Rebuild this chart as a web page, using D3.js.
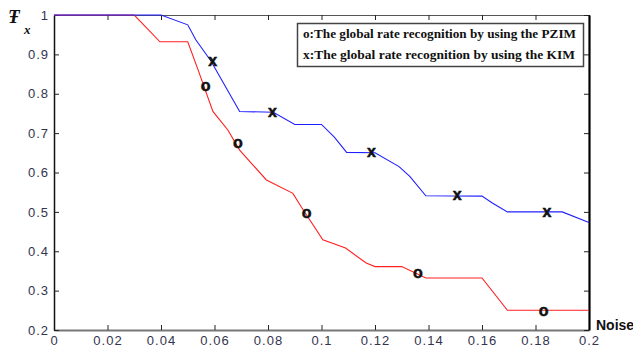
<!DOCTYPE html>
<html>
<head>
<meta charset="utf-8">
<script src="https://cdn.jsdelivr.net/npm/d3@7"></script>
<style>
  body { margin: 0; background: #fff; }
  svg { display: block; }
  .tick text { font-family: Arial, "Liberation Sans", sans-serif; font-size: 13px; fill: #34344e; letter-spacing: 1px; }
</style>
</head>
<body>
<script>
// PZIM curve (red) and KIM curve (blue)
const pzimNoise = [0, 0.03, 0.0396, 0.05, 0.0539, 0.0594, 0.065, 0.0694, 0.0744, 0.0794, 0.0893, 0.0924, 0.1005, 0.109, 0.1167, 0.12, 0.13, 0.139, 0.16, 0.1695, 0.2];
const pzimRate  = [1, 1, 0.932, 0.932, 0.86, 0.755, 0.708, 0.657, 0.619, 0.581, 0.547, 0.513, 0.429, 0.408, 0.37, 0.361, 0.361, 0.332, 0.332, 0.25, 0.25];
const kimNoise  = [0, 0.04, 0.05, 0.053, 0.0586, 0.0694, 0.082, 0.09, 0.1, 0.1048, 0.1094, 0.12, 0.129, 0.133, 0.139, 0.16, 0.164, 0.1695, 0.19, 0.2];
const kimRate   = [1, 1, 0.975, 0.937, 0.884, 0.755, 0.753, 0.722, 0.722, 0.69, 0.651, 0.65, 0.615, 0.59, 0.541, 0.54, 0.522, 0.5, 0.5, 0.473];

// marker positions
const pzimMarkNoise = [0.0567, 0.0687, 0.0944, 0.136, 0.183];
const pzimMarkRate  = [0.82, 0.675, 0.497, 0.345, 0.249];
const kimMarkNoise  = [0.0593, 0.0817, 0.1187, 0.1507, 0.1843];
const kimMarkRate   = [0.883, 0.754, 0.652, 0.543, 0.5];

const xTicks = [0, 0.02, 0.04, 0.06, 0.08, 0.1, 0.12, 0.14, 0.16, 0.18, 0.2];
const yTicks = [0.2, 0.3, 0.4, 0.5, 0.6, 0.7, 0.8, 0.9, 1];
const legendLines = ["o:The global rate recognition by using the PZIM", "x:The global rate recognition by using the KIM"];

const width = 633, height = 347;
const margin = {top: 15, right: 44, bottom: 17, left: 54};

const x = d3.scaleLinear([0, 0.2], [margin.left, width - margin.right]);
const y = d3.scaleLinear([0.2, 1], [height - margin.bottom, margin.top]);

const svg = d3.select("body").append("svg")
    .attr("width", width)
    .attr("height", height);

const fmt = d => String(+d.toFixed(2));

// axes, MATLAB style: ticks point inward
svg.append("g")
    .attr("transform", `translate(0,${y(0.2)})`)
    .call(d3.axisBottom(x).tickValues(xTicks).tickFormat(fmt).tickSizeInner(-5).tickSizeOuter(0).tickPadding(6))
    .call(g => g.select(".domain").attr("stroke", "#777").attr("stroke-width", 2))
    .call(g => g.selectAll(".tick line").attr("stroke", "#222"));

svg.append("g")
    .attr("transform", `translate(0,${y(1)})`)
    .call(d3.axisTop(x).tickValues(xTicks).tickFormat("").tickSizeInner(-5).tickSizeOuter(0))
    .call(g => g.select(".domain").attr("stroke", "#555").attr("stroke-width", 1.2))
    .call(g => g.selectAll(".tick line").attr("stroke", "#222"));

svg.append("g")
    .attr("transform", `translate(${x(0)},0)`)
    .call(d3.axisLeft(y).tickValues(yTicks).tickFormat(fmt).tickSizeInner(-5).tickSizeOuter(0).tickPadding(5))
    .call(g => g.select(".domain").attr("stroke", "#111").attr("stroke-width", 1.5))
    .call(g => g.selectAll(".tick line").attr("stroke", "#222"));

svg.append("g")
    .attr("transform", `translate(${x(0.2)},0)`)
    .call(d3.axisRight(y).tickValues(yTicks).tickFormat("").tickSizeInner(-5).tickSizeOuter(0))
    .call(g => g.select(".domain").attr("stroke", "#000").attr("stroke-width", 2.2))
    .call(g => g.selectAll(".tick line").attr("stroke", "#222"));

const line = d3.line()
    .x(d => x(d[0]))
    .y(d => y(d[1]));

svg.append("path")
    .datum(d3.zip(pzimNoise, pzimRate))
    .attr("fill", "none")
    .attr("stroke", "#ff2020")
    .attr("stroke-width", 1.1)
    .attr("d", line);

svg.append("path")
    .datum(d3.zip(kimNoise, kimRate))
    .attr("fill", "none")
    .attr("stroke", "#2020ff")
    .attr("stroke-width", 1.1)
    .attr("d", line);

const markers = [
  {sym: "o", pts: d3.zip(pzimMarkNoise, pzimMarkRate)},
  {sym: "x", pts: d3.zip(kimMarkNoise, kimMarkRate)}
];

markers.forEach(m => {
  svg.append("g")
    .selectAll("text")
    .data(m.pts)
    .join("text")
      .attr("x", d => x(d[0]))
      .attr("y", d => y(d[1]))
      .attr("dy", "0.3em")
      .attr("text-anchor", "middle")
      .attr("font-family", "Arial, 'Liberation Sans', sans-serif")
      .attr("font-weight", "bold")
      .attr("font-size", 16)
      .attr("fill", "#111")
      .attr("stroke", "#111")
      .attr("stroke-width", 0.5)
      .text(m.sym);
});

// legend
const legend = svg.append("g");
legend.append("rect")
    .attr("x", 297.5)
    .attr("y", 23.5)
    .attr("width", 286)
    .attr("height", 43)
    .attr("fill", "#fff")
    .attr("stroke", "#444")
    .attr("stroke-width", 1.5);
legend.selectAll("text")
  .data(legendLines)
  .join("text")
    .attr("x", 303)
    .attr("y", (d, i) => 38 + i * 21)
    .attr("font-family", "'Liberation Serif', 'Times New Roman', serif")
    .attr("font-weight", "bold")
    .attr("font-size", 12)
    .attr("fill", "#111")
    .attr("textLength", (d, i) => i === 0 ? 273 : 272)
    .attr("lengthAdjust", "spacingAndGlyphs")
    .text(d => d);

// axis titles
svg.append("text")
    .attr("x", 596)
    .attr("y", 330)
    .attr("font-family", "Arial, 'Liberation Sans', sans-serif")
    .attr("font-weight", "bold")
    .attr("font-size", 14)
    .attr("fill", "#111")
    .text("Noise");

const yTitle = svg.append("text")
    .attr("x", 8)
    .attr("y", 23)
    .attr("font-family", "'Liberation Serif', 'Times New Roman', serif")
    .attr("font-weight", "bold")
    .attr("font-style", "italic")
    .attr("font-size", 19)
    .attr("fill", "#111");
yTitle.append("tspan").text("Ŧ");
yTitle.append("tspan")
    .attr("x", 24)
    .attr("y", 34)
    .attr("font-size", 13)
    .text("x");
</script>
</body>
</html>
